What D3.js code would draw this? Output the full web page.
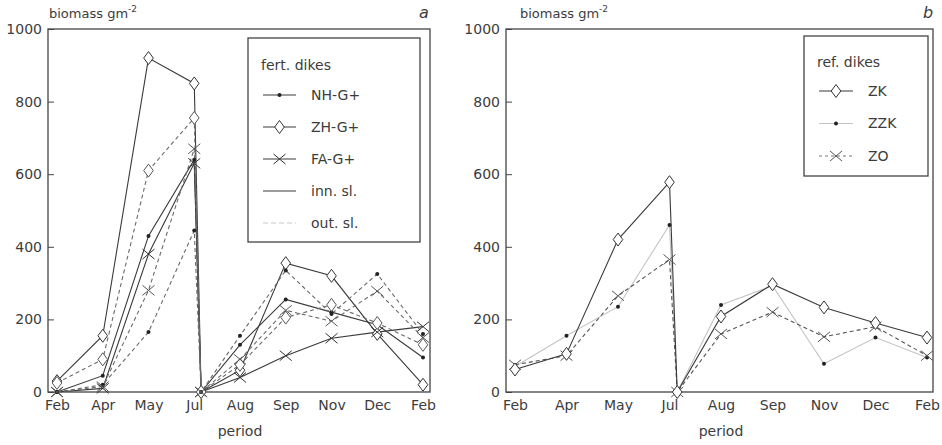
<!DOCTYPE html>
<html>
<head>
<meta charset="utf-8">
<script src="https://cdn.jsdelivr.net/npm/d3@7"></script>
<style>
body { margin: 0; background: #fff; }
text { font-family: "DejaVu Sans", sans-serif; fill: #3c3c3c; }
</style>
</head>
<body>
<div id="wrapper"></div>
<script>
// sampling periods; Jul is sampled twice: before and just after mowing
const periods = ["Feb", "Apr", "May", "Jul", "Aug", "Sep", "Nov", "Dec", "Feb"]
const samplePos = [0, 1, 2, 3, 3.15, 4, 5, 6, 7, 8]
const yTicks = [0, 200, 400, 600, 800, 1000]

// panel a - fertilised dikes, biomass g/m2
const nhInner = [0, 45, 430, 640, 0, 130, 255, 220, 185, 95]
const nhOuter = [0, 20, 165, 445, 0, 155, 335, 215, 325, 160]
const zhInner = [30, 155, 920, 850, 0, 60, 355, 320, 160, 20]
const zhOuter = [25, 90, 610, 755, 0, 75, 205, 240, 190, 130]
const faInner = [0, 10, 380, 630, 0, 40, 100, 148, 165, 180]
const faOuter = [0, 15, 280, 670, 0, 90, 225, 195, 278, 150]

// panel b - reference dikes
const zk = [62, 105, 420, 578, 0, 208, 297, 233, 190, 150]
const zzk = [70, 155, 235, 460, 0, 240, 293, 78, 150, 95]
const zo = [75, 100, 265, 365, 0, 160, 220, 152, 180, 100]

const fertLegend = ["NH-G+", "ZH-G+", "FA-G+", "inn. sl.", "out. sl."]
const refLegend = ["ZK", "ZZK", "ZO"]

window.addEventListener("load", paint)

function paint() {
    const svg = d3.select("#wrapper")
        .append("svg")
            .attr("width", 942)
            .attr("height", 445)

    const ink = "#3a3a3a"
    const dashInk = "#6a6a6a"

    const panelA = {
        frame: {left: 48, right: 430, top: 29, bottom: 392},
        xRange: [57, 423],
        title: {x: 49, letter: "a", letterX: 419},
        series: [
            {values: zhInner, marker: "diamond", color: ink, dash: null},
            {values: nhInner, marker: "dot", color: ink, dash: null},
            {values: faInner, marker: "cross", color: ink, dash: null},
            {values: zhOuter, marker: "diamond", color: dashInk, dash: "4,3"},
            {values: nhOuter, marker: "dot", color: dashInk, dash: "4,3"},
            {values: faOuter, marker: "cross", color: dashInk, dash: "4,3"},
        ],
        legend: {
            box: {x: 248, y: 38, w: 172, h: 204},
            title: "fert. dikes", titleY: 70,
            rowY: 95, rowStep: 32, sample: [263, 296], textX: 311,
            rows: [
                {label: fertLegend[0], marker: "dot", color: ink, dash: null},
                {label: fertLegend[1], marker: "diamond", color: ink, dash: null},
                {label: fertLegend[2], marker: "cross", color: ink, dash: null},
                {label: fertLegend[3], marker: null, color: ink, dash: null},
                {label: fertLegend[4], marker: null, color: "#c8c8c8", dash: "5,3"},
            ]
        }
    }

    const panelB = {
        frame: {left: 506, right: 933, top: 29, bottom: 392},
        xRange: [515, 927],
        title: {x: 520, letter: "b", letterX: 923},
        series: [
            {values: zzk, marker: "dot", color: "#c4c4c4", dash: null},
            {values: zo, marker: "cross", color: "#555", dash: "4,3"},
            {values: zk, marker: "diamond", color: ink, dash: null},
        ],
        legend: {
            box: {x: 804, y: 36, w: 124, h: 140},
            title: "ref. dikes", titleY: 67,
            rowY: 91, rowStep: 32.5, sample: [819, 853], textX: 868,
            rows: [
                {label: refLegend[0], marker: "diamond", color: ink, dash: null},
                {label: refLegend[1], marker: "dot", color: "#c4c4c4", dash: null},
                {label: refLegend[2], marker: "cross", color: "#777", dash: "3,3"},
            ]
        }
    }

    svg.call(drawPanel, panelA)
    svg.call(drawPanel, panelB)
}

function drawMarker(g, type, cx, cy, color) {
    if (type === "diamond") {
        g.append("path")
            .attr("d", "M0,-6.5L4.8,0L0,6.5L-4.8,0Z")
            .attr("transform", `translate(${cx},${cy})`)
            .attr("fill", "#fff").attr("stroke", color).attr("stroke-width", 1)
    } else if (type === "cross") {
        g.append("path")
            .attr("d", "M-6,-5L6,5M-6,5L6,-5")
            .attr("transform", `translate(${cx},${cy})`)
            .attr("fill", "none").attr("stroke", color).attr("stroke-width", 1)
    } else if (type === "dot") {
        g.append("circle")
            .attr("cx", cx).attr("cy", cy).attr("r", 2)
            .attr("fill", "#222")
    }
}

function drawPanel(svg, p) {
    const f = p.frame
    const x = d3.scaleLinear().domain([0, 8]).range(p.xRange)
    const y = d3.scaleLinear().domain([0, 1000]).range([f.bottom, f.top])

    const g = svg.append("g")

    // y axis with inward ticks
    g.append("g")
        .attr("transform", `translate(${f.left},0)`)
        .call(d3.axisLeft(y).tickValues(yTicks).tickFormat(d3.format("d"))
            .tickSize(-6).tickPadding(6))
        .call(a => a.select(".domain").remove())
        .call(a => a.selectAll("line").attr("stroke", "#444"))
        .call(a => a.selectAll("text").attr("font-size", 14).attr("fill", "#3c3c3c")
            .attr("font-family", "DejaVu Sans, sans-serif"))

    // x axis: labels only
    g.append("g")
        .attr("transform", `translate(0,${f.bottom})`)
        .call(d3.axisBottom(x).tickValues(d3.range(periods.length))
            .tickFormat(i => periods[i]).tickSize(0).tickPadding(8))
        .call(a => a.select(".domain").remove())
        .call(a => a.selectAll("text").attr("font-size", 14).attr("fill", "#3c3c3c")
            .attr("font-family", "DejaVu Sans, sans-serif"))

    // frame
    g.append("rect")
        .attr("x", f.left).attr("y", f.top)
        .attr("width", f.right - f.left).attr("height", f.bottom - f.top)
        .attr("fill", "none").attr("stroke", "#444").attr("stroke-width", 1.3)

    // titles
    const t = g.append("text")
        .attr("x", p.title.x).attr("y", 18)
        .attr("font-size", 13)
    t.append("tspan").text("biomass gm")
    t.append("tspan").text("-2").attr("font-size", 9).attr("dy", -6)

    g.append("text")
        .attr("x", p.title.letterX).attr("y", 18)
        .attr("font-size", 16).attr("font-style", "italic")
        .text(p.title.letter)

    g.append("text")
        .attr("x", (p.xRange[0] + p.xRange[1]) / 2).attr("y", 436)
        .attr("text-anchor", "middle").attr("font-size", 14)
        .text("period")

    // series
    const line = d3.line()
        .x((d, i) => x(samplePos[i]))
        .y(d => y(d))

    p.series.forEach(s => {
        g.append("path")
            .datum(s.values)
            .attr("d", line)
            .attr("fill", "none")
            .attr("stroke", s.color)
            .attr("stroke-width", 1.1)
            .attr("stroke-dasharray", s.dash)
    })
    p.series.forEach(s => {
        const mg = g.append("g")
        s.values.forEach((v, i) => drawMarker(mg, s.marker, x(samplePos[i]), y(v),
            s.dash ? "#555" : "#333"))
    })

    // legend
    const L = p.legend
    const lg = g.append("g")
    lg.append("rect")
        .attr("x", L.box.x).attr("y", L.box.y)
        .attr("width", L.box.w).attr("height", L.box.h)
        .attr("fill", "#fff").attr("stroke", "#444").attr("stroke-width", 1.3)
    lg.append("text")
        .attr("x", L.sample[0] - 2).attr("y", L.titleY)
        .attr("font-size", 14)
        .text(L.title)
    L.rows.forEach((r, i) => {
        const cy = L.rowY + i * L.rowStep
        lg.append("line")
            .attr("x1", L.sample[0]).attr("x2", L.sample[1])
            .attr("y1", cy).attr("y2", cy)
            .attr("stroke", r.color).attr("stroke-width", 1.1)
            .attr("stroke-dasharray", r.dash)
        if (r.marker) drawMarker(lg, r.marker, (L.sample[0] + L.sample[1]) / 2, cy,
            r.dash ? "#555" : "#333")
        lg.append("text")
            .attr("x", L.textX).attr("y", cy).attr("dy", "0.35em")
            .attr("font-size", 14)
            .text(r.label)
    })
}
</script>
</body>
</html>
